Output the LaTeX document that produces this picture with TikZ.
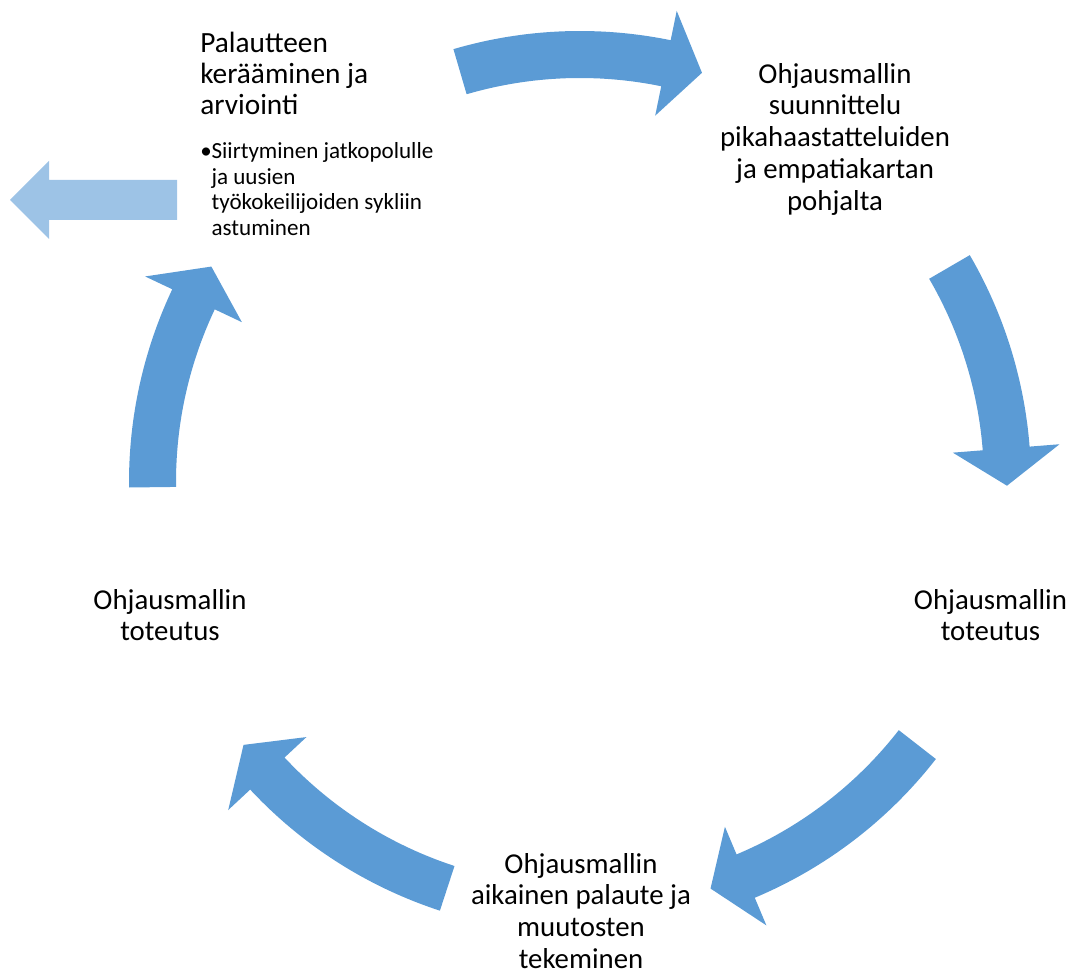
\documentclass[tikz,border=0pt]{standalone}
\usepackage{fontspec}
\setmainfont{Carlito}
\definecolor{arrowblue}{HTML}{5B9BD5}
\definecolor{lightblue}{HTML}{9DC3E6}
\newcommand\cyclearrow[3]{% tail angle, tip angle, head base angle
  \fill[cyclefill]
    plot[domain=#1:#3, samples=40] ({580+451*cos(\x)},{492+451*sin(\x)})
    -- ({580+481*cos(#3)},{492+481*sin(#3)})
    -- ({580+427*cos(#2)},{492+427*sin(#2)})
    -- ({580+374*cos(#3)},{492+374*sin(#3)})
    -- plot[domain=#3:#1, samples=40] ({580+404*cos(\x)},{492+404*sin(\x)})
    -- cycle;}
\begin{document}
\begin{tikzpicture}[x=0.75pt,y=0.75pt,
  cyclefill/.style={fill=arrowblue},
  lbl/.style={inner sep=0pt, align=center, anchor=north, font=\fontsize{21.6}{23.8}\selectfont},
  head/.style={inner sep=0pt, align=left, anchor=north west, font=\fontsize{22}{23.25}\selectfont},
  sub/.style={inner sep=0pt, anchor=north west, font=\fontsize{17.3}{19.3}\selectfont}]
\useasboundingbox (0,0) rectangle (1073,974);
\coordinate (C) at (580,492);
% cycle arrows
\cyclearrow{106.3}{73.4}{78.4}
\cyclearrow{30.2}{-0.5}{4.5}
\cyclearrow{-37.9}{-72.2}{-67.2}
\cyclearrow{-108.1}{-142.0}{-137.0}
\cyclearrow{180.7}{149.7}{154.7}
% exit arrow
\fill[lightblue] (177,794) -- (49,794) -- (49,813) -- (10,774) -- (49,735) -- (49,754) -- (177,754) -- cycle;
% labels
\node[lbl] (n1) at (835,911) {Ohjausmallin\\suunnittelu\\pikahaastatteluiden\\ja empatiakartan\\pohjalta};
\node[lbl] (n2) at (990.5,385) {Ohjausmallin\\toteutus};
\node[lbl] (n3) at (581,121) {Ohjausmallin\\aikainen palaute ja\\muutosten\\tekeminen};
\node[lbl] (n4) at (170,385) {Ohjausmallin\\toteutus};
\node[head] (n5) at (200,942) {Palautteen\\kerääminen ja\\arviointi};
\node[sub] (n6) at (200,832) {\makebox[8.5pt][l]{•}\parbox[t]{200pt}{\raggedright Siirtyminen jatkopolulle\\ja uusien\\työkokeilijoiden sykliin\\astuminen}};
\end{tikzpicture}
\end{document}
